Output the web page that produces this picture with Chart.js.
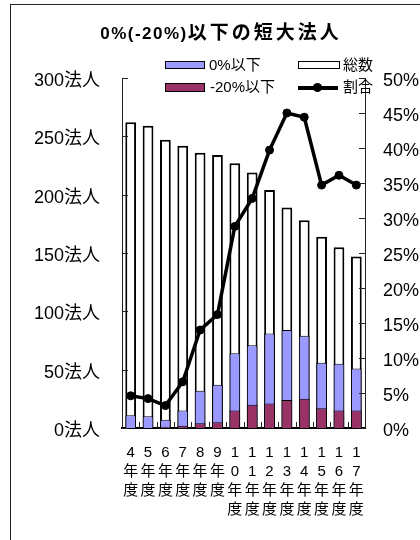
<!DOCTYPE html>
<html lang="ja">
<head>
<meta charset="utf-8">
<title>0%(-20%)以下の短大法人</title>
<script src="https://cdn.jsdelivr.net/npm/chart.js@4.4.1/dist/chart.umd.min.js"></script>
<style>
  body { margin: 0; background: #fff; }
  #wrap {
    position: relative; width: 420px; height: 540px; overflow: hidden;
    font-family: "Liberation Sans", "Noto Sans CJK JP", sans-serif; color: #000;
  }
  #frame {
    position: absolute; left: 10px; top: 4px; width: 500px; height: 600px;
    border-left: 1.5px solid #222; border-top: 1.5px solid #222;
  }
  #title {
    position: absolute; left: 10px; width: 422px; top: 21px; line-height: 24px;
    text-align: center; font-weight: bold; font-size: 17px; letter-spacing: 1.5px;
  }
  #title .jp { font-size: 19px; letter-spacing: 3px; }
  .sw { position: absolute; box-sizing: border-box; width: 40px; border: 1.5px solid #000; }
  .lt { position: absolute; font-size: 15px; line-height: 20px; white-space: nowrap; }
  .ln { position: absolute; width: 40px; height: 3.5px; background: #000; }
  .dot { position: absolute; width: 9px; height: 9px; border-radius: 50%; background: #000; }
  canvas { position: absolute; left: 0; top: 0; }
</style>
</head>
<body>
<div id="wrap">
  <div id="frame"></div>
  <canvas id="chart" width="420" height="540"></canvas>
  <div id="title">0%(-20%)<span class="jp">以下の短大法人</span></div>
  <div id="legend">
    <div class="sw" style="left:165px; top:61px; height:8px; background:#9999FF"></div>
    <div class="lt" style="left:209px; top:55px">0%以下</div>
    <div class="sw" style="left:165px; top:83px; height:9px; background:#993366"></div>
    <div class="lt" style="left:210px; top:77px">-20%以下</div>
    <div class="sw" style="left:298px; top:61px; height:8px; width:42px; background:#fff"></div>
    <div class="lt" style="left:343px; top:55px">総数</div>
    <div class="ln" style="left:298px; top:86px"></div>
    <div class="dot" style="left:313px; top:83px"></div>
    <div class="lt" style="left:343px; top:77px">割合</div>
  </div>
</div>
<script>
// 年度ごとの短大法人数
const years = ['4年度', '5年度', '6年度', '7年度', '8年度', '9年度', '10年度',
               '11年度', '12年度', '13年度', '14年度', '15年度', '16年度', '17年度'];
const total = [262, 259, 247, 242, 236, 234, 227, 219, 204, 189, 178, 164, 155, 147];
const under0 = [11, 10, 7, 15, 32, 37, 64, 71, 81, 84, 79, 56, 55, 51];
const under20 = [0, 0, 1, 2, 4, 5, 15, 20, 21, 24, 25, 17, 15, 15];
// 0%以下の割合 (%)
const ratio = [4.6, 4.2, 3.2, 6.6, 14.0, 16.2, 28.8, 32.8, 39.7, 45.0, 44.4, 34.7, 36.1, 34.7];

Chart.defaults.font.family = '"Liberation Sans", "Noto Sans CJK JP", sans-serif';
Chart.defaults.color = '#000';

// 目盛り線を軸の内側に描く
const inwardTicks = {
    id: 'inwardTicks',
    afterDatasetsDraw(chart) {
        const { ctx, chartArea, scales } = chart;
        const x = scales.x, y = scales.y, y1 = scales.y1;
        ctx.save();
        ctx.strokeStyle = '#222';
        ctx.lineWidth = 1;
        ctx.beginPath();
        y.ticks.forEach(t => {
            const py = Math.round(y.getPixelForValue(t.value)) + 0.5;
            ctx.moveTo(chartArea.left, py);
            ctx.lineTo(chartArea.left + 6, py);
        });
        y1.ticks.forEach(t => {
            const py = Math.round(y1.getPixelForValue(t.value)) + 0.5;
            ctx.moveTo(chartArea.right, py);
            ctx.lineTo(chartArea.right - 6, py);
        });
        for (let i = 0; i <= years.length; i++) {
            const px = Math.round(x.getPixelForValue(i - 0.5)) + 0.5;
            ctx.moveTo(px, chartArea.bottom);
            ctx.lineTo(px, chartArea.bottom - 6);
        }
        ctx.stroke();
        ctx.restore();
    }
};

new Chart(document.getElementById('chart'), {
    type: 'bar',
    data: {
        labels: years,
        datasets: [{
            type: 'line',
            label: '割合',
            data: ratio,
            yAxisID: 'y1',
            borderColor: '#000',
            backgroundColor: '#000',
            borderWidth: 3.5,
            pointRadius: 4,
            pointBorderWidth: 1,
            pointBackgroundColor: '#000',
            tension: 0
        }, {
            label: '-20%以下',
            data: under20,
            yAxisID: 'y',
            backgroundColor: '#993366',
            borderColor: '#000',
            borderWidth: 1
        }, {
            label: '0%以下',
            data: under0,
            yAxisID: 'y',
            backgroundColor: '#9999FF',
            borderColor: '#000',
            borderWidth: 1
        }, {
            label: '総数',
            data: total,
            yAxisID: 'y',
            backgroundColor: '#fff',
            borderColor: '#000',
            borderWidth: 2
        }]
    },
    options: {
        responsive: false,
        animation: false,
        datasets: {
            bar: { grouped: false, barPercentage: 0.62, categoryPercentage: 1 }
        },
        layout: { padding: { top: 78, left: 0, right: 0, bottom: 0 } },
        plugins: {
            legend: { display: false },
            tooltip: { enabled: false }
        },
        scales: {
            x: {
                grid: { display: false, drawTicks: false },
                border: { color: '#000', width: 2 },
                ticks: {
                    padding: 15,
                    maxRotation: 0,
                    autoSkip: false,
                    font: { size: 15, lineHeight: 1.27 },
                    callback: function (v) { return this.getLabelForValue(v).split(''); }
                },
                afterFit: (s) => { s.height = 112; }
            },
            y: {
                position: 'left',
                min: 0,
                max: 300,
                grid: { display: false, drawTicks: false },
                border: { color: '#222', width: 1 },
                ticks: {
                    stepSize: 50,
                    padding: 22,
                    labelOffset: 3,
                    font: { size: 18 },
                    callback: (v) => v + '法人'
                },
                afterFit: (s) => { s.width = 122; }
            },
            y1: {
                position: 'right',
                min: 0,
                max: 50,
                grid: { display: false, drawTicks: false },
                border: { color: '#222', width: 1 },
                ticks: {
                    stepSize: 5,
                    padding: 18,
                    labelOffset: 3,
                    font: { size: 18 },
                    callback: (v) => v + '%'
                },
                afterFit: (s) => { s.width = 55; }
            }
        }
    },
    plugins: [inwardTicks]
});
</script>
</body>
</html>
